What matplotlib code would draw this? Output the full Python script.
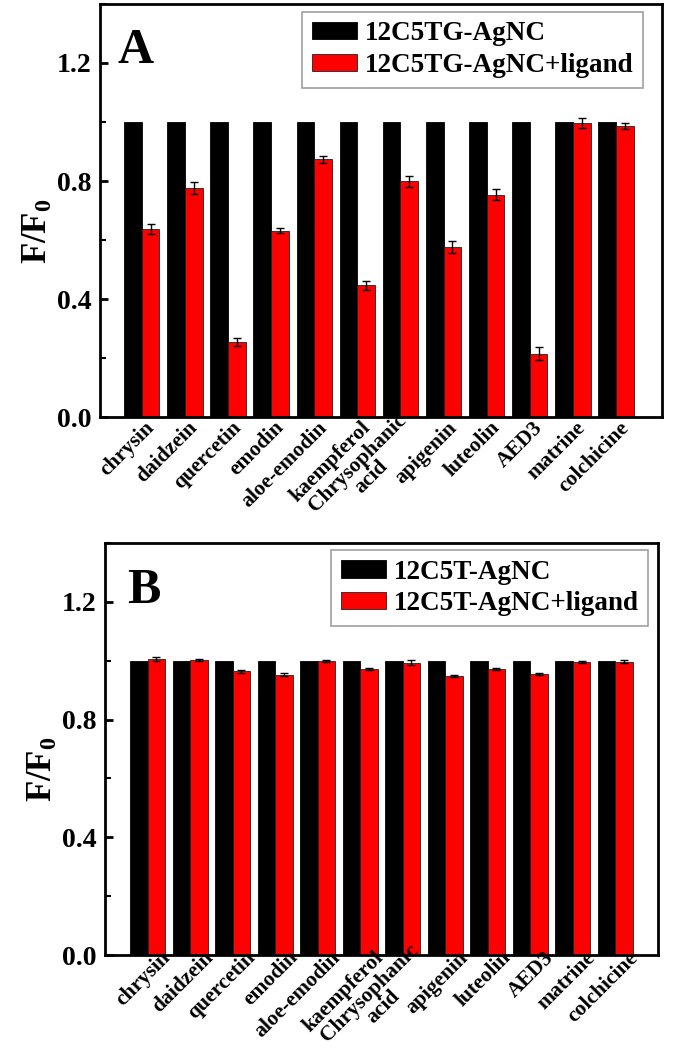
import numpy as np
import matplotlib
matplotlib.use('Agg')
import matplotlib.pyplot as plt
from matplotlib.ticker import MultipleLocator
from matplotlib.transforms import ScaledTranslation

plt.rcParams['font.family'] = ['Liberation Serif', 'DejaVu Serif']
plt.rcParams['font.weight'] = 'bold'
plt.rcParams['mathtext.fontset'] = 'custom'
plt.rcParams['mathtext.rm'] = 'Liberation Serif'
plt.rcParams['mathtext.bf'] = 'Liberation Serif:bold'

# ligands (x categories)
ligands = ['chrysin', 'daidzein', 'quercetin', 'emodin', 'aloe-emodin', 'kaempferol',
           'Chrysophanic\nacid', 'apigenin', 'luteolin', 'AED3', 'matrine', 'colchicine']

# panel A: 12C5TG-AgNC
a_blank = [1.0] * 12
a_ligand = [0.637, 0.777, 0.254, 0.632, 0.873, 0.446, 0.799, 0.576, 0.754, 0.215, 0.997, 0.986]
a_err = [0.016, 0.021, 0.014, 0.009, 0.011, 0.016, 0.019, 0.020, 0.019, 0.023, 0.016, 0.011]

# panel B: 12C5T-AgNC
b_blank = [1.0] * 12
b_ligand = [1.006, 1.003, 0.964, 0.953, 0.998, 0.972, 0.994, 0.948, 0.972, 0.955, 0.996, 0.997]
b_err = [0.006, 0.003, 0.004, 0.006, 0.003, 0.005, 0.007, 0.004, 0.004, 0.004, 0.003, 0.004]

panels = [
    dict(rect=[0.148, 0.6036, 0.833, 0.3926], xlim=(0.03, 13.07), letter='A',
         letter_pos=(0.032, 0.857), blank=a_blank, ligand=a_ligand, err=a_err,
         names=['12C5TG-AgNC', '12C5TG-AgNC+ligand'], leg_anchor=(0.966, 0.981),
         label_x=-0.08, lab_shift=(0.10, 0.02)),
    dict(rect=[0.1556, 0.0922, 0.819, 0.3916], xlim=(0.0, 13.0), letter='B',
         letter_pos=(0.04, 0.854), blank=b_blank, ligand=b_ligand, err=b_err,
         names=['12C5T-AgNC', '12C5T-AgNC+ligand'], leg_anchor=(0.983, 0.983),
         label_x=-0.082, lab_shift=(0.20, 0.10)),
]

fig = plt.figure(figsize=(6.75, 10.52), dpi=100)
x = np.arange(1, len(ligands) + 1)
w = 0.41

for p in panels:
    ax = fig.add_axes(p['rect'])
    ax.bar(x - w / 2, p['blank'], w, color='black', edgecolor='black', linewidth=0.6,
           label=p['names'][0])
    ax.bar(x + w / 2, p['ligand'], w, color='#ff0000', edgecolor='#222222', linewidth=0.6,
           label=p['names'][1])
    ax.errorbar(x + w / 2, p['ligand'], yerr=p['err'], fmt='none', ecolor='black',
                elinewidth=1, capsize=3, capthick=1)

    ax.set_xlim(*p['xlim'])
    ax.set_ylim(0, 1.4)
    ax.yaxis.set_major_locator(MultipleLocator(0.4))
    ax.yaxis.set_minor_locator(MultipleLocator(0.2))
    ax.set_yticks([0.0, 0.4, 0.8, 1.2])
    ax.set_yticklabels(['0.0', '0.4', '0.8', '1.2'])
    ax.tick_params(axis='y', which='major', direction='in', length=6, width=2,
                   labelsize=20, pad=6)
    ax.tick_params(axis='y', which='minor', direction='in', length=4, width=1.5)
    ax.set_xticks(x)
    ax.set_xticklabels(ligands, rotation=45, ha='right', va='center',
                       rotation_mode='anchor', fontsize=15.5, multialignment='center',
                       linespacing=0.95)
    ax.tick_params(axis='x', length=0, pad=7)
    # rotated labels sit right of the bar pair in the original
    offset = ScaledTranslation(p['lab_shift'][0], p['lab_shift'][1], fig.dpi_scale_trans)
    for lab in ax.get_xticklabels():
        lab.set_transform(lab.get_transform() + offset)
    for s in ax.spines.values():
        s.set_linewidth(2)

    ax.set_ylabel(r'$\mathbf{F/F_0}$', fontsize=25)
    ax.yaxis.set_label_coords(p['label_x'], 0.45)

    ax.text(p['letter_pos'][0], p['letter_pos'][1], p['letter'], transform=ax.transAxes,
            fontsize=36, fontweight='bold', ha='left', va='baseline')

    leg = ax.legend(loc='upper right', bbox_to_anchor=p['leg_anchor'], borderaxespad=0,
                    fontsize=19.5, fancybox=False, edgecolor='#888888',
                    handlelength=1.67, handleheight=0.6, handletextpad=0.3,
                    borderpad=0.35, labelspacing=0.25)
    leg.get_frame().set_linewidth(1.2)

fig.savefig('out.png', dpi=100)
